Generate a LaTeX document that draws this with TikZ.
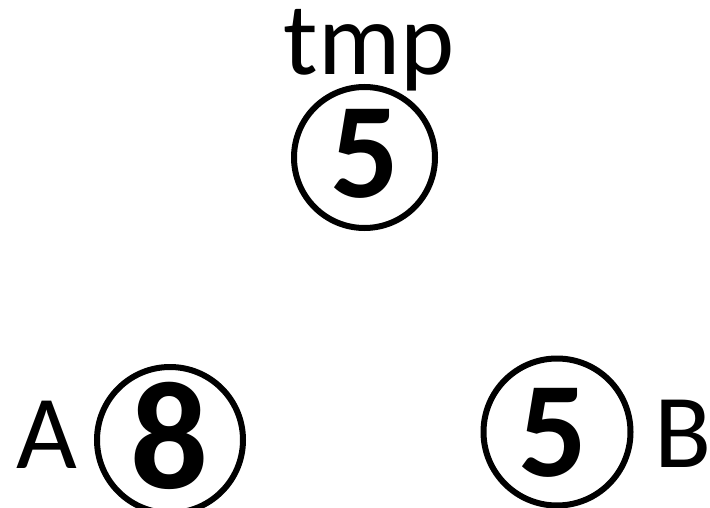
\documentclass[tikz,border=0pt]{standalone}
\usepackage{fontspec}
\setmainfont{Carlito}
\begin{document}
\begin{tikzpicture}[x=1pt,y=-1pt,
  ring/.style={draw=black,line width=6pt,circle,inner sep=0pt},
  digit/.style={anchor=base,inner sep=0pt,font=\bfseries\fontsize{136}{136}\selectfont},
  label/.style={anchor=base,inner sep=0pt,font=\fontsize{105}{105}\selectfont}]
\useasboundingbox (0,0) rectangle (710,508);
% circles
\node[ring,minimum size=141pt] (ctop) at (364.5,157.5) {};
\node[ring,minimum size=146pt] (cA) at (170,440) {};
\node[ring,minimum size=147pt] (cB) at (557,432) {};
% digits
\node[digit] (dtop) at (365,197) {5};
\node[digit,font=\bfseries\fontsize{154}{154}\selectfont] (dA) at (170,488) {8};
\node[digit] (dB) at (553,476) {5};
% labels
\node[label,font=\fontsize{103}{103}\selectfont] (ltmp) at (369,75) {tmp};
\node[label] (lA) at (47,468) {A};
\node[label] (lB) at (683,467) {B};
\end{tikzpicture}
\end{document}
